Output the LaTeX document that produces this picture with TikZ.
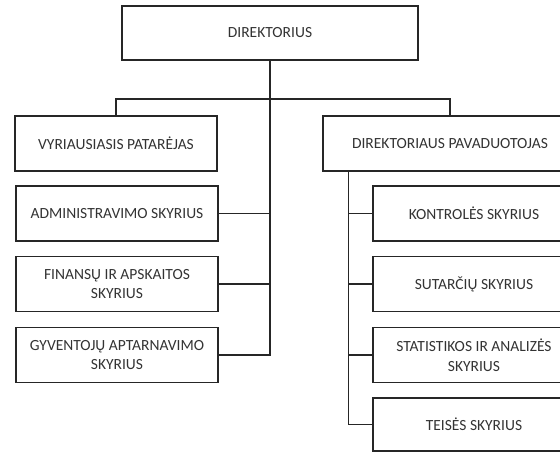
\documentclass[tikz,border=0pt]{standalone}
\usepackage{fontspec}
\setmainfont{Carlito}
\begin{document}
\begin{tikzpicture}[x=1pt,y=-1pt,
  box/.style={draw=black!85, line width=1.4pt, rectangle, inner sep=0pt,
    minimum width=202pt, minimum height=55pt, align=center,
    text=black!80, font=\fontsize{15.5}{19.5}\selectfont},
  conn/.style={draw=black!85, line width=1.4pt}]
\useasboundingbox (0,0) rectangle (560,452);
\clip (0,0) rectangle (560,452);
\node[box, minimum width=296pt, minimum height=54pt] (dir) at (270,33) {DIREKTORIUS};
\node[box] (vp) at (116,143.5) {VYRIAUSIASIS PATARĖJAS};
\node[box, minimum width=254pt] (dp) at (450,143.5) {DIREKTORIAUS PAVADUOTOJAS};
\node[box] (adm) at (117,213.5) {ADMINISTRAVIMO SKYRIUS};
\node[box] (fin) at (117,284) {FINANSŲ IR APSKAITOS\\SKYRIUS};
\node[box] (gyv) at (117,355) {GYVENTOJŲ APTARNAVIMO\\SKYRIUS};
\node[box] (kon) at (474,213.5) {KONTROLĖS SKYRIUS};
\node[box] (sut) at (474,284) {SUTARČIŲ SKYRIUS};
\node[box] (sta) at (474,355) {STATISTIKOS IR ANALIZĖS\\SKYRIUS};
\node[box, minimum height=53pt] (tei) at (474,424.5) {TEISĖS SKYRIUS};
\coordinate (bus) at (270,99);
\coordinate (dpl) at ([xshift=26pt]dp.south west);
\draw[conn] (dir.south) |- (gyv.east);
\draw[conn] (vp.north) |- (bus) -| (dp.north);
\draw[conn] (adm.east) -- (adm.east -| dir.south);
\draw[conn] (fin.east) -- (fin.east -| dir.south);
\draw[conn] (dpl) |- (tei.west);
\draw[conn] (kon.west) -- (kon.west -| dpl);
\draw[conn] (sut.west) -- (sut.west -| dpl);
\draw[conn] (sta.west) -- (sta.west -| dpl);
\end{tikzpicture}
\end{document}
